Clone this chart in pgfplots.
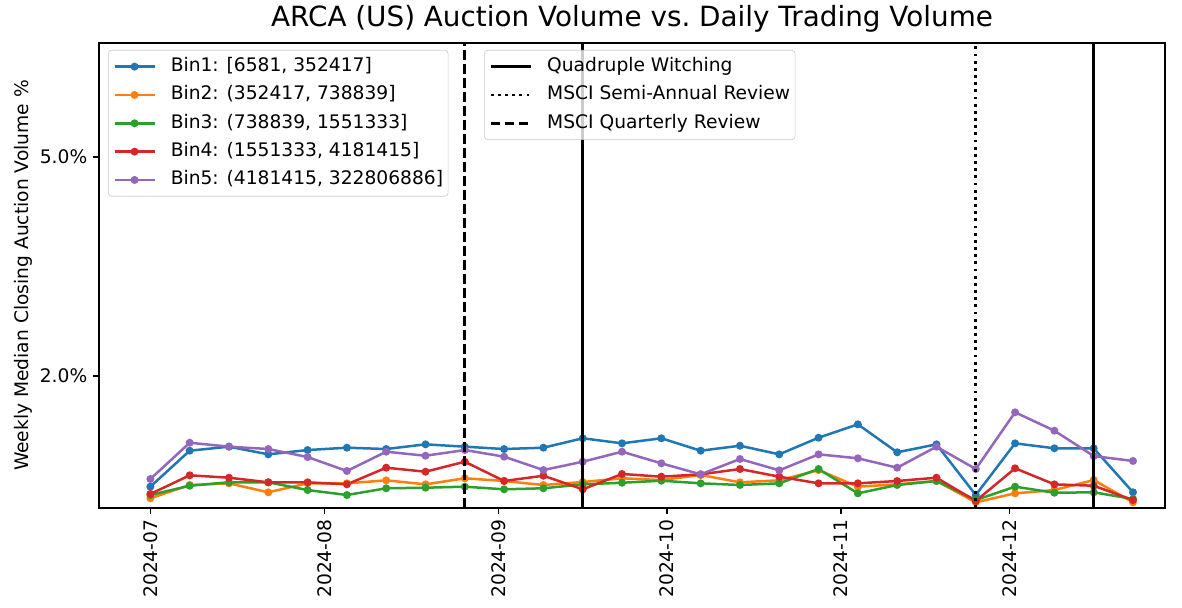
\documentclass[border=0pt]{standalone}
\usepackage{fontspec}
\setmainfont{DejaVu Sans}
\usepackage{pgfplots}
\pgfplotsset{compat=1.18}
\usepackage{pgfplotstable}

\definecolor{c1}{HTML}{1F77B4}
\definecolor{c2}{HTML}{FF7F0E}
\definecolor{c3}{HTML}{2CA02C}
\definecolor{c4}{HTML}{D62728}
\definecolor{c5}{HTML}{9467BD}

\newcommand\lfont{\fontsize{11.2}{13.4}\selectfont}

% weekly medians, x = days since 2024-07-01
\pgfplotstableread{
day b1 b2 b3 b4 b5
0 0.484 0.325 0.370 0.384 0.589
7 0.977 0.507 0.497 0.640 1.086
14 1.032 0.530 0.544 0.607 1.032
21 0.927 0.407 0.544 0.544 1.000
28 0.986 0.530 0.438 0.544 0.890
35 1.018 0.530 0.370 0.516 0.699
42 1.000 0.571 0.462 0.744 0.963
49 1.064 0.516 0.470 0.689 0.908
56 1.032 0.599 0.484 0.826 0.986
63 1.000 0.562 0.448 0.562 0.895
70 1.018 0.507 0.462 0.634 0.712
77 1.147 0.548 0.516 0.448 0.826
84 1.078 0.599 0.538 0.658 0.963
91 1.147 0.575 0.566 0.621 0.804
98 0.977 0.644 0.530 0.653 0.653
105 1.045 0.544 0.507 0.726 0.863
112 0.927 0.571 0.530 0.621 0.708
119 1.155 0.712 0.726 0.530 0.927
126 1.338 0.484 0.393 0.530 0.873
133 0.955 0.516 0.507 0.562 0.744
140 1.064 0.562 0.562 0.607 1.032
147 0.370 0.270 0.301 0.288 0.726
154 1.078 0.393 0.484 0.736 1.503
161 1.010 0.438 0.401 0.516 1.251
168 1.010 0.575 0.407 0.497 0.904
175 0.407 0.270 0.315 0.301 0.836
}\auct

\pgfplotsset{
  base/.style={scale only axis, width=639.6pt, height=279pt,
    xmin=-9.15, xmax=180.7, ymin=0.192, ymax=6.562},
  leg/.style={legend cell align=left,
    legend style={draw=black!20, fill=white, fill opacity=0.8, draw opacity=1, text opacity=1,
      rounded corners=2pt, font=\lfont, inner xsep=3pt, inner ysep=4.3pt, row sep=6pt,
      nodes={inner sep=0pt, text height=8.5pt, text depth=2.5pt},
      /tikz/every odd column/.append style={column sep=9pt}},
    legend image code/.code={\draw[##1] (0pt,0pt) -- (24pt,0pt);
      \draw[##1] plot coordinates {(12pt,0pt)};}},
  bin/.style={color=#1, line width=1.5pt, mark=*, mark size=1.6pt, mark options={solid}},
  vl/.style={black, line width=1.7pt},
}

\begin{document}
\begin{tikzpicture}
\begin{axis}[base, name=main, leg,
  legend style={at={(0.0084,0.985)}, anchor=north west},
  axis line style={line width=0.8pt},
  tick pos=left, tick align=outside, major tick length=3.5pt,
  tick style={line width=0.8pt, black},
  xtick={0,31,62,92,123,153},
  xticklabels={2024-07,2024-08,2024-09,2024-10,2024-11,2024-12},
  xticklabel style={rotate=90, anchor=east},
  ytick={2,5}, yticklabels={2.0\%,5.0\%},
  tick label style={font=\lfont},
  title={ARCA (US) Auction Volume vs.\ Daily Trading Volume},
  title style={font=\fontsize{16.7}{19}\selectfont, inner sep=0pt},
  ylabel={Weekly Median Closing Auction Volume \%},
  every axis y label/.style={at={(rel axis cs:0,0.5)}, xshift=-39.6pt, rotate=90,
    anchor=south, inner sep=0pt, font=\lfont},
]
\addplot[bin=c1] table[x=day, y=b1] {\auct};
\addlegendentry{Bin1: [6581, 352417]}
\addplot[bin=c2] table[x=day, y=b2] {\auct};
\addlegendentry{Bin2: (352417, 738839]}
\addplot[bin=c3] table[x=day, y=b3] {\auct};
\addlegendentry{Bin3: (738839, 1551333]}
\addplot[bin=c4] table[x=day, y=b4] {\auct};
\addlegendentry{Bin4: (1551333, 4181415]}
\addplot[bin=c5] table[x=day, y=b5] {\auct};
\addlegendentry{Bin5: (4181415, 322806886]}
\end{axis}

\begin{axis}[base, hide axis, leg,
  legend style={at={(0.3612,0.985)}, anchor=north west}]
\addplot[vl] coordinates {(77,0.192) (77,6.562)};
\addlegendentry{Quadruple Witching}
\addplot[vl, dash pattern=on 1.7pt off 2.6pt] coordinates {(147,0.192) (147,6.562)};
\addlegendentry{MSCI Semi-Annual Review}
\addplot[vl, dash pattern=on 5.8pt off 2.6pt] coordinates {(56,0.192) (56,6.562)};
\addlegendentry{MSCI Quarterly Review}
\addplot[vl, forget plot] coordinates {(168,0.192) (168,6.562)};
\end{axis}

\pgfresetboundingbox
\path (main.south west) ++(-59.4pt,-59.4pt) rectangle ([shift={(10.2pt,25.8pt)}]main.north east);
\end{tikzpicture}
\end{document}
